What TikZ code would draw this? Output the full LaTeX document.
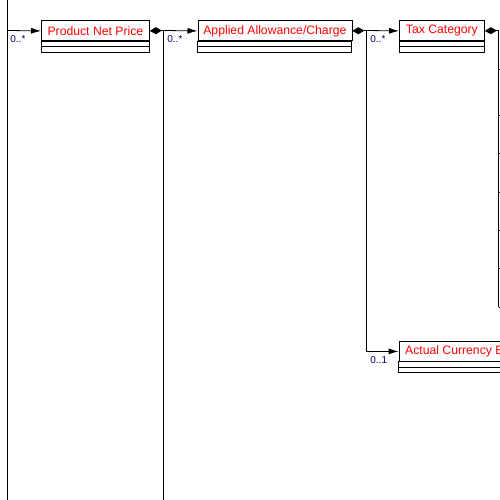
\documentclass[tikz,border=0pt]{standalone}
\usepackage{fontspec}
\setmainfont{Liberation Sans}
\usetikzlibrary{positioning,arrows.meta}
\definecolor{clsred}{RGB}{255,0,0}
\definecolor{multblue}{RGB}{0,0,110}

\newcommand{\umlbox}[5]{%
  \node[cls,minimum width=#4] (#1) at (#2,#3) {#5};
  \draw (#1.south west) rectangle ++(#4,5.5);
  \draw (#1.south west) ++(0,5.5) rectangle ++(#4,5.5);
}

\begin{document}
\begin{tikzpicture}[x=1pt,y=-1pt,line width=0.8pt]
			\tikzstyle{cls}=[draw,black,anchor=north west,minimum height=20pt,inner sep=0pt,text=clsred,font=\fontsize{12.2}{13}\selectfont]
			\tikzstyle{mult}=[text=multblue,anchor=north west,inner sep=0pt,font=\fontsize{10}{11}\selectfont]
			\tikzstyle{arr}=[-{Latex[length=10pt,width=6pt]}]
			\tikzstyle{agg}=[{Diamond[length=12pt,width=7pt]}-]
			\useasboundingbox (0,0) rectangle (500,500);
			\clip (0,0) rectangle (500,500);
			\umlbox{pnp}{41}{20.5}{108}{Product Net Price}
			\umlbox{aac}{197.5}{20.5}{154}{Applied Allowance/Charge}
			\umlbox{tc}{399}{20.5}{85}{Tax Category}
			\umlbox{ace}{398.5}{341}{157}{Actual Currency Exchange}
			\coordinate (l0) at (7,-2);
			\coordinate (l1) at (7,502);
			\coordinate (j0) at (7,30.5);
			\coordinate (j1) at (163,30.5);
			\coordinate (j1end) at (163,502);
			\coordinate (j2) at (366,30.5);
			\coordinate (j3) at (498.5,30.5);
			\coordinate (j3end) at (498.5,307);
			\draw (l0) -- (l1);
			\draw [arr] (j0) -- (pnp.west);
			\draw [agg] (pnp.east) -- (j1);
			\draw (j1) -- (j1end);
			\draw [arr] (j1) -- (aac.west);
			\draw [agg] (aac.east) -- (j2);
			\draw [arr] (j2) -- (tc.west);
			\draw [arr] (j2) |- (ace.west);
			\draw [agg] (tc.east) -- (j3);
			\draw (j3) -- (j3end);
			\foreach \yy in {69,115,153,192,230,268,307} {
				\coordinate (t\yy) at (510,\yy);
				\draw (j3 |- t\yy) -- (t\yy);
			}
			\node [mult] (m0) at (10,35) {0..*};
			\node [mult] (m1) at (167,35) {0..*};
			\node [mult] (m2) at (370,35) {0..*};
			\node [mult] (m3) at (370,356) {0..1};
\end{tikzpicture}
\end{document}
